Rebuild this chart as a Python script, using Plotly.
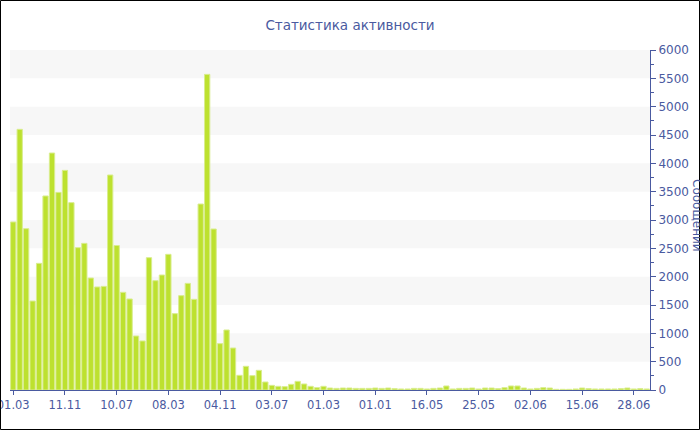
import plotly.graph_objects as go

# Data
bar_index = list(range(99))
messages = [
    2965, 4600, 2847, 1570, 2235, 3424, 4182, 3488, 3876, 3306,
    2512, 2588, 1976, 1818, 1829, 3794, 2550, 1724, 1606, 953,
    865, 2335, 1929, 2029, 2394, 1347, 1665, 1882, 1600, 3282,
    5570, 2841, 818, 1059, 741, 259, 418, 253, 347, 141,
    82, 65, 59, 100, 153, 106, 65, 41, 65, 35,
    29, 35, 35, 29, 29, 29, 35, 29, 35, 24,
    18, 18, 29, 29, 18, 29, 35, 71, 18, 29,
    29, 35, 18, 35, 35, 24, 41, 71, 71, 35,
    18, 29, 41, 35, 12, 12, 12, 18, 35, 24,
    18, 18, 18, 18, 24, 35, 18, 24, 18,
]
tick_positions = [0, 8, 16, 24, 32, 40, 48, 56, 64, 72, 80, 88, 96]
tick_labels = ["01.03", "11.11", "10.07", "08.03", "04.11", "03.07", "01.03",
               "01.01", "16.05", "25.05", "02.06", "15.06", "28.06"]
band_starts = [500, 1500, 2500, 3500, 4500, 5500]

TXT = "#4a5aa0"
W, H = 700, 430
ML, MR, MT, MB = 10, 50, 50, 40
PW, PH = W - ML - MR, H - MT - MB

fig = go.Figure()
fig.add_trace(go.Bar(
    x=bar_index, y=messages,
    marker=dict(color="#bde12f", line=dict(color="#d9ed8f", width=1)),
    hoverinfo="y",
))

shapes = []
for b in band_starts:
    shapes.append(dict(type="rect", xref="paper", yref="y", x0=0, x1=1,
                       y0=b, y1=b + 500, fillcolor="#f7f7f7",
                       line=dict(width=0), layer="below"))
# outer border
shapes.append(dict(type="rect", xref="paper", yref="paper",
                   x0=(0.5 - ML) / PW, x1=(W - 0.5 - ML) / PW,
                   y0=(H - MB - (H - 0.5)) / PH, y1=(H - MB - 0.5) / PH,
                   line=dict(color="black", width=1), fillcolor="rgba(0,0,0,0)"))

fig.update_layout(
    width=W, height=H,
    margin=dict(l=ML, r=MR, t=MT, b=MB, autoexpand=False),
    paper_bgcolor="white", plot_bgcolor="white",
    font=dict(family="DejaVu Sans", color=TXT, size=12),
    title=dict(text="Статистика активности", x=0.5, xanchor="center",
               y=1 - 25 / H, yanchor="middle", font=dict(size=13.5, color=TXT)),
    bargap=0.18,
    showlegend=False,
    shapes=shapes,
    xaxis=dict(range=[-0.5, 98.5], tickmode="array", tickvals=tick_positions,
               ticktext=tick_labels, ticks="outside", ticklen=4,
               tickcolor=TXT, showline=True, linecolor=TXT, linewidth=1,
               showgrid=False, zeroline=False, tickfont=dict(size=11.5),
               ticklabeloverflow="allow", automargin=False),
    yaxis=dict(side="right", range=[0, 6000], dtick=500, tick0=0,
               ticks="outside", ticklen=5, tickcolor=TXT,
               showline=True, linecolor=TXT, linewidth=1,
               showgrid=False, zeroline=False, tickfont=dict(size=12),
               minor=dict(dtick=250, ticks="outside", ticklen=3, tickcolor=TXT),
               ticklabeloverflow="allow", automargin=False),
    annotations=[dict(text="Сообщений", xref="paper", yref="paper",
                      x=(697 - ML) / PW, y=(H - MB - 215) / PH,
                      showarrow=False, textangle=90,
                      xanchor="center", yanchor="middle",
                      font=dict(size=12, color=TXT))],
)

fig.write_html("out.html",
               config={"displayModeBar": False},
               post_script="document.body.style.margin='0';document.body.style.padding='0';")
